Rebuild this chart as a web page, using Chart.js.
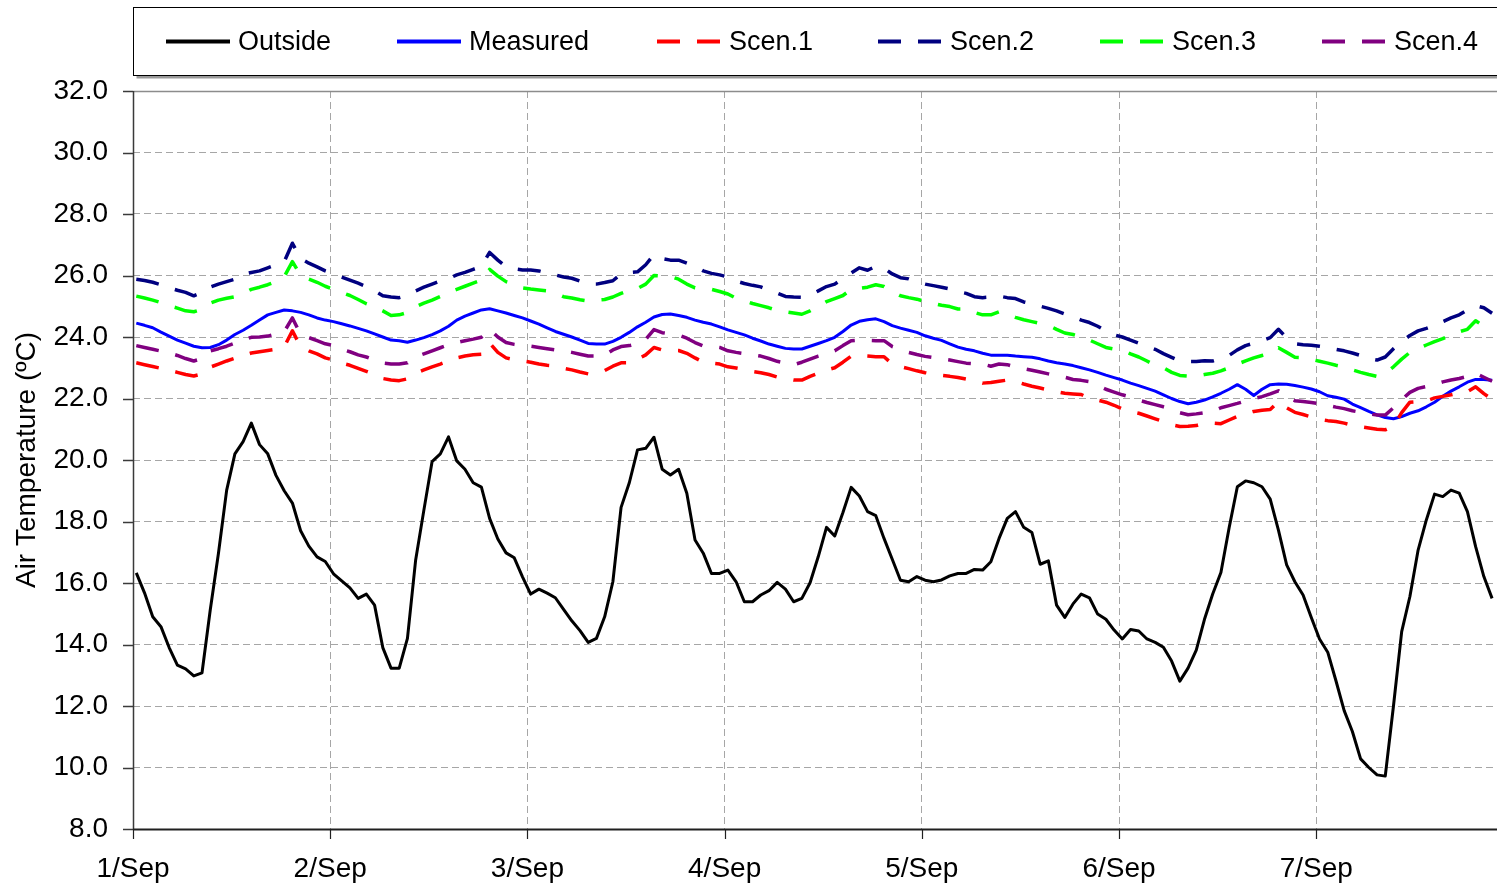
<!DOCTYPE html>
<html>
<head>
<meta charset="utf-8">
<title>Air Temperature</title>
<script src="https://cdn.jsdelivr.net/npm/chart.js@4.4.1/dist/chart.umd.min.js"></script>
<style>
  html, body { margin: 0; padding: 0; background: #ffffff; overflow: hidden; }
  canvas { display: block; }
</style>
</head>
<body>
<canvas id="chart" width="1497" height="886"></canvas>
<script>
// Day labels on the time axis (one every 24 hourly readings)
const dayLabels = ['1/Sep', '2/Sep', '3/Sep', '4/Sep', '5/Sep', '6/Sep', '7/Sep'];

// Hourly air temperatures, 1 Sep 00:24 onwards (ºC)
const outside = [
  16.33, 15.68, 14.90, 14.58, 13.90, 13.33, 13.21, 12.98, 13.08, 15.12,
  16.97, 19.02, 20.20, 20.60, 21.20, 20.50, 20.20, 19.50, 19.00, 18.60,
  17.70, 17.20, 16.85, 16.70, 16.30, 16.07, 15.84, 15.50, 15.64, 15.28,
  13.90, 13.23, 13.23, 14.20, 16.75, 18.37, 19.95, 20.20, 20.75, 19.97,
  19.70, 19.26, 19.12, 18.10, 17.43, 16.98, 16.82, 16.20, 15.64, 15.80,
  15.67, 15.52, 15.14, 14.77, 14.45, 14.07, 14.20, 14.90, 16.04, 18.46,
  19.26, 20.33, 20.38, 20.74, 19.70, 19.51, 19.70, 18.92, 17.40, 16.97,
  16.31, 16.31, 16.42, 16.04, 15.39, 15.39, 15.61, 15.75, 16.02, 15.80,
  15.39, 15.50, 16.01, 16.86, 17.81, 17.53, 18.29, 19.11, 18.83, 18.32,
  18.19, 17.45, 16.77, 16.09, 16.04, 16.21, 16.09, 16.04, 16.10, 16.23,
  16.31, 16.31, 16.44, 16.42, 16.69, 17.45, 18.10, 18.32, 17.81, 17.64,
  16.61, 16.72, 15.28, 14.88, 15.32, 15.64, 15.52, 14.99, 14.82, 14.47,
  14.18, 14.49, 14.44, 14.18, 14.07, 13.91, 13.46, 12.81, 13.23, 13.82,
  14.82, 15.64, 16.34, 17.80, 19.13, 19.32, 19.26, 19.13, 18.73, 17.72,
  16.59, 16.04, 15.61, 14.88, 14.18, 13.75, 12.82, 11.85, 11.17, 10.28,
  10.00, 9.76, 9.72, 12.00, 14.42, 15.56, 17.07, 18.05, 18.89, 18.81,
  19.02, 18.92, 18.32, 17.18, 16.21, 15.50
];

const measured = [
  24.45, 24.38, 24.30, 24.16, 24.03, 23.90, 23.80, 23.70, 23.65, 23.66,
  23.75, 23.90, 24.08, 24.22, 24.38, 24.55, 24.72, 24.80, 24.88, 24.85,
  24.80, 24.72, 24.62, 24.55, 24.50, 24.43, 24.36, 24.28, 24.20, 24.10,
  24.00, 23.90, 23.88, 23.83, 23.90, 23.98, 24.08, 24.20, 24.35, 24.55,
  24.68, 24.78, 24.88, 24.92, 24.85, 24.78, 24.70, 24.62, 24.52, 24.42,
  24.30, 24.18, 24.09, 24.00, 23.90, 23.79, 23.77, 23.77, 23.86, 23.99,
  24.15, 24.33, 24.48, 24.65, 24.73, 24.75, 24.70, 24.64, 24.55, 24.48,
  24.42, 24.33, 24.23, 24.15, 24.07, 23.96, 23.87, 23.77, 23.70, 23.63,
  23.61, 23.61, 23.70, 23.79, 23.88, 23.99, 24.18, 24.39, 24.51, 24.56,
  24.59, 24.50, 24.37, 24.29, 24.22, 24.15, 24.04, 23.96, 23.89, 23.78,
  23.67, 23.60, 23.55, 23.47, 23.41, 23.41, 23.41, 23.38, 23.36, 23.34,
  23.29, 23.22, 23.16, 23.12, 23.07, 23.00, 22.93, 22.85, 22.76, 22.68,
  22.60, 22.50, 22.42, 22.33, 22.24, 22.12, 22.00, 21.90, 21.83, 21.88,
  21.95, 22.05, 22.17, 22.30, 22.45, 22.30, 22.10, 22.30, 22.45, 22.47,
  22.46, 22.42, 22.37, 22.31, 22.22, 22.09, 22.04, 21.98, 21.82, 21.70,
  21.58, 21.47, 21.38, 21.34, 21.41, 21.52, 21.60, 21.73, 21.88, 22.07,
  22.24, 22.38, 22.53, 22.62, 22.62, 22.59
];

const scen1 = [
  23.16, 23.10, 23.04, 22.98, 22.92, 22.85, 22.78, 22.73, 22.80, 23.02,
  23.12, 23.22, 23.31, 23.40, 23.48, 23.52, 23.56, 23.60, 23.68, 24.20,
  23.68, 23.55, 23.45, 23.32, 23.25, 23.15, 23.08, 22.98, 22.88, 22.78,
  22.65, 22.60, 22.58, 22.64, 22.82, 22.93, 23.03, 23.12, 23.22, 23.32,
  23.38, 23.42, 23.44, 23.80, 23.50, 23.32, 23.26, 23.22, 23.18, 23.12,
  23.08, 23.06, 22.98, 22.93, 22.86, 22.80, 22.84, 22.91, 23.05, 23.16,
  23.16, 23.28, 23.42, 23.66, 23.58, 23.57, 23.56, 23.47, 23.32, 23.18,
  23.15, 23.12, 23.03, 22.99, 22.94, 22.88, 22.84, 22.78, 22.70, 22.65,
  22.60, 22.60, 22.72, 22.82, 22.92, 23.00, 23.18, 23.38, 23.40, 23.38,
  23.36, 23.36, 23.12, 23.04, 22.97, 22.90, 22.84, 22.79, 22.75, 22.72,
  22.68, 22.63, 22.58, 22.50, 22.52, 22.56, 22.60, 22.55, 22.47, 22.40,
  22.34, 22.28, 22.22, 22.17, 22.15, 22.13, 22.00, 21.95, 21.88, 21.78,
  21.66, 21.58, 21.52, 21.43, 21.34, 21.25, 21.15, 21.09, 21.10, 21.12,
  21.20, 21.20, 21.18, 21.30, 21.42, 21.50, 21.58, 21.62, 21.64, 21.90,
  21.70, 21.55, 21.48, 21.40, 21.32, 21.28, 21.25, 21.20, 21.13, 21.08,
  21.04, 21.00, 20.98, 21.10, 21.54, 21.88, 21.90, 21.92, 22.02, 22.07,
  22.12, 22.18, 22.22, 22.38, 22.16, 21.97
];

const scen2 = [
  25.88, 25.84, 25.78, 25.70, 25.60, 25.52, 25.45, 25.34, 25.45, 25.62,
  25.72, 25.80, 25.88, 26.04, 26.10, 26.15, 26.25, 26.35, 26.45, 27.05,
  26.55, 26.40, 26.28, 26.15, 26.05, 25.95, 25.85, 25.75, 25.64, 25.50,
  25.34, 25.30, 25.28, 25.35, 25.50, 25.62, 25.72, 25.82, 25.90, 26.02,
  26.10, 26.20, 26.30, 26.75, 26.50, 26.28, 26.22, 26.18, 26.18, 26.15,
  26.08, 26.02, 25.95, 25.91, 25.82, 25.72, 25.72, 25.77, 25.83, 26.05,
  26.10, 26.12, 26.35, 26.68, 26.55, 26.50, 26.50, 26.40, 26.30, 26.15,
  26.07, 26.02, 25.95, 25.82, 25.74, 25.68, 25.63, 25.52, 25.43, 25.32,
  25.30, 25.29, 25.36, 25.50, 25.64, 25.72, 25.90, 26.08, 26.25, 26.17,
  26.30, 26.24, 26.05, 25.93, 25.89, 25.80, 25.72, 25.67, 25.62, 25.56,
  25.48, 25.42, 25.31, 25.28, 25.30, 25.33, 25.28, 25.25, 25.14, 25.08,
  25.00, 24.93, 24.85, 24.75, 24.66, 24.55, 24.47, 24.35, 24.20, 24.07,
  24.00, 23.90, 23.80, 23.70, 23.60, 23.46, 23.34, 23.22, 23.20, 23.20,
  23.23, 23.22, 23.30, 23.40, 23.58, 23.72, 23.80, 23.88, 23.98, 24.25,
  23.98, 23.78, 23.75, 23.73, 23.70, 23.66, 23.60, 23.55, 23.48, 23.40,
  23.30, 23.25, 23.35, 23.62, 23.85, 24.05, 24.20, 24.28, 24.38, 24.50,
  24.62, 24.72, 24.88, 25.02, 24.95, 24.77
];

const scen3 = [
  25.33, 25.27, 25.20, 25.12, 25.02, 24.94, 24.85, 24.82, 24.90, 25.10,
  25.20, 25.26, 25.31, 25.42, 25.55, 25.62, 25.70, 25.80, 25.96, 26.45,
  26.00, 25.88, 25.78, 25.65, 25.55, 25.45, 25.35, 25.22, 25.08, 24.98,
  24.85, 24.70, 24.72, 24.80, 24.98, 25.10, 25.20, 25.32, 25.45, 25.55,
  25.65, 25.75, 25.85, 26.20, 25.98, 25.80, 25.72, 25.60, 25.56, 25.53,
  25.50, 25.43, 25.31, 25.27, 25.21, 25.17, 25.20, 25.22, 25.30, 25.42,
  25.52, 25.58, 25.72, 26.00, 25.98, 25.97, 25.88, 25.72, 25.60, 25.57,
  25.55, 25.48, 25.40, 25.26, 25.18, 25.09, 25.02, 24.95, 24.86, 24.82,
  24.78, 24.74, 24.85, 25.00, 25.15, 25.25, 25.35, 25.55, 25.58, 25.62,
  25.70, 25.64, 25.48, 25.34, 25.28, 25.23, 25.15, 25.09, 25.03, 24.99,
  24.91, 24.91, 24.80, 24.72, 24.72, 24.82, 24.75, 24.64, 24.56, 24.50,
  24.44, 24.38, 24.25, 24.13, 24.08, 24.00, 23.90, 23.78, 23.66, 23.61,
  23.58, 23.45, 23.35, 23.22, 23.08, 23.00, 22.85, 22.75, 22.73, 22.73,
  22.78, 22.82, 22.90, 23.00, 23.12, 23.22, 23.32, 23.40, 23.47, 23.65,
  23.50, 23.34, 23.33, 23.27, 23.21, 23.15, 23.08, 23.02, 22.93, 22.85,
  22.78, 22.72, 22.82, 23.03, 23.28, 23.50, 23.62, 23.74, 23.85, 23.95,
  24.06, 24.17, 24.25, 24.53, 24.35, 24.22
];

const scen4 = [
  23.72, 23.66, 23.60, 23.54, 23.48, 23.40, 23.30, 23.22, 23.30, 23.55,
  23.62, 23.70, 23.80, 23.90, 23.99, 24.00, 24.03, 24.10, 24.17, 24.62,
  24.08, 23.98, 23.88, 23.78, 23.72, 23.60, 23.52, 23.42, 23.35, 23.25,
  23.15, 23.12, 23.12, 23.16, 23.35, 23.45, 23.55, 23.65, 23.75, 23.82,
  23.88, 23.93, 23.99, 24.25, 24.00, 23.82, 23.76, 23.72, 23.70, 23.66,
  23.62, 23.58, 23.55, 23.50, 23.44, 23.38, 23.38, 23.41, 23.58, 23.69,
  23.72, 23.78, 23.92, 24.24, 24.14, 24.10, 24.07, 23.96, 23.82, 23.71,
  23.70, 23.66, 23.55, 23.50, 23.46, 23.42, 23.38, 23.30, 23.21, 23.15,
  23.10, 23.18, 23.28, 23.38, 23.46, 23.55, 23.72, 23.88, 23.90, 23.89,
  23.88, 23.88, 23.69, 23.60, 23.50, 23.43, 23.37, 23.33, 23.29, 23.25,
  23.20, 23.15, 23.13, 23.12, 23.05, 23.12, 23.10, 23.02, 22.97, 22.92,
  22.86, 22.80, 22.75, 22.69, 22.62, 22.59, 22.55, 22.43, 22.30, 22.21,
  22.12, 22.05, 21.95, 21.87, 21.80, 21.73, 21.65, 21.54, 21.47, 21.50,
  21.54, 21.58, 21.70, 21.77, 21.84, 21.92, 22.00, 22.06, 22.15, 22.25,
  22.08, 21.93, 21.90, 21.87, 21.83, 21.78, 21.72, 21.67, 21.60, 21.55,
  21.50, 21.46, 21.46, 21.70, 21.96, 22.20, 22.33, 22.39, 22.46, 22.54,
  22.60, 22.65, 22.72, 22.82, 22.69, 22.56
];

const seriesNames = ['Outside', 'Measured', 'Scen.1', 'Scen.2', 'Scen.3', 'Scen.4'];
const seriesColors = ['#000000', '#0000ff', '#ff0000', '#000080', '#00ff00', '#800080'];
const seriesValues = [outside, measured, scen1, scen2, scen3, scen4];

const FONT_FAMILY = "'Liberation Sans', Arial, Helvetica, sans-serif";
const FIRST_READING_HOUR = 0.4;   // first reading at 00:24 on 1 Sep
const HOURS_SHOWN = 166;
const LONG_DASH = [23, 17];

function toPoints(values) {
  return values.map((v, i) => ({ x: FIRST_READING_HOUR + i, y: v }));
}

const datasets = seriesValues.map((vals, k) => ({
  label: seriesNames[k],
  data: toPoints(vals),
  borderColor: seriesColors[k],
  backgroundColor: seriesColors[k],
  borderWidth: k < 2 ? 3 : 3.5,
  borderDash: k < 2 ? [] : LONG_DASH,
  borderCapStyle: 'butt',
  borderJoinStyle: 'round',
  pointRadius: 0,
  tension: 0,
  fill: false,
  order: 6 - k
}));

// Axes, tick marks, frame and legend box
const framePlugin = {
  id: 'frame',
  afterDraw(chart) {
    const { ctx, chartArea: a, scales } = chart;
    const xs = scales.x, ys = scales.y;
    ctx.save();

    // solid top edge of the plot area
    ctx.strokeStyle = '#8c8c8c';
    ctx.lineWidth = 1.5;
    ctx.beginPath();
    ctx.moveTo(a.left, a.top + 0.5);
    ctx.lineTo(a.right, a.top + 0.5);
    ctx.stroke();

    // value axis with outward tick marks
    ctx.strokeStyle = '#3a3a3a';
    ctx.lineWidth = 1.5;
    ctx.beginPath();
    ctx.moveTo(a.left + 0.5, a.top);
    ctx.lineTo(a.left + 0.5, a.bottom);
    ys.ticks.forEach(t => {
      const y = Math.round(ys.getPixelForValue(t.value)) + 0.5;
      ctx.moveTo(a.left - 10, y);
      ctx.lineTo(a.left, y);
    });
    ctx.stroke();

    // time axis with outward tick marks
    ctx.strokeStyle = '#202020';
    ctx.lineWidth = 2;
    ctx.beginPath();
    ctx.moveTo(a.left, a.bottom + 0.5);
    ctx.lineTo(a.right, a.bottom + 0.5);
    ctx.stroke();
    ctx.lineWidth = 1.2;
    ctx.beginPath();
    xs.ticks.forEach(t => {
      const x = Math.round(xs.getPixelForValue(t.value)) + 0.5;
      ctx.moveTo(x, a.bottom);
      ctx.lineTo(x, a.bottom + 10);
    });
    ctx.stroke();

    // legend box with a soft shadow
    const box = { x: 133.5, y: 7.5, w: 1420, h: 68 };
    ctx.fillStyle = '#9a9a9a';
    ctx.fillRect(box.x + 3, box.y + 3, box.w, box.h);
    ctx.fillStyle = '#ffffff';
    ctx.fillRect(box.x, box.y, box.w, box.h);
    ctx.strokeStyle = '#000000';
    ctx.lineWidth = 1;
    ctx.strokeRect(box.x, box.y, box.w, box.h);

    const legendY = 41.5;
    const sampleStart = [166, 397, 657, 878, 1100, 1322];
    const sampleLen = 64;
    ctx.font = '27px ' + FONT_FAMILY;
    ctx.textBaseline = 'middle';
    ctx.textAlign = 'left';
    chart.data.datasets.forEach((ds, k) => {
      const x0 = sampleStart[k];
      ctx.strokeStyle = ds.borderColor;
      ctx.lineWidth = 4;
      ctx.lineCap = 'butt';
      ctx.setLineDash(ds.borderDash);
      ctx.beginPath();
      ctx.moveTo(x0, legendY);
      ctx.lineTo(x0 + sampleLen, legendY);
      ctx.stroke();
      ctx.setLineDash([]);
      ctx.fillStyle = '#000000';
      ctx.fillText(ds.label, x0 + sampleLen + 8, legendY + 1);
    });

    ctx.restore();
  }
};

new Chart(document.getElementById('chart').getContext('2d'), {
  type: 'line',
  data: { datasets },
  options: {
    responsive: false,
    animation: false,
    devicePixelRatio: 1,
    layout: { padding: { top: 91, left: 0, right: 0, bottom: 0 } },
    plugins: { legend: { display: false }, tooltip: { enabled: false } },
    scales: {
      x: {
        type: 'linear',
        min: 0,
        max: HOURS_SHOWN,
        afterBuildTicks(scale) {
          scale.ticks = scale.ticks.filter(t => t.value % 24 === 0);
        },
        afterFit(scale) {
          scale.height = 57;
          scale.paddingLeft = 0;
          scale.paddingRight = 0;
        },
        ticks: {
          stepSize: 24,
          autoSkip: false,
          maxRotation: 0,
          padding: 23,
          color: '#000000',
          font: { family: FONT_FAMILY, size: 28 },
          callback: v => dayLabels[v / 24]
        },
        grid: { color: '#a6a6a6', lineWidth: 1, drawTicks: false },
        border: { display: false, dash: [7, 4] }
      },
      y: {
        min: 8,
        max: 32,
        afterFit(scale) {
          scale.width = 133;
        },
        ticks: {
          stepSize: 2,
          padding: 25,
          color: '#000000',
          font: { family: FONT_FAMILY, size: 28 },
          callback: v => v.toFixed(1)
        },
        grid: { color: '#a6a6a6', lineWidth: 1, drawTicks: false },
        border: { display: false, dash: [7, 4] },
        title: {
          display: true,
          text: 'Air Temperature (ºC)',
          color: '#000000',
          font: { family: FONT_FAMILY, size: 28 },
          padding: { top: 10, bottom: 0 }
        }
      }
    }
  },
  plugins: [framePlugin]
});
</script>
</body>
</html>
